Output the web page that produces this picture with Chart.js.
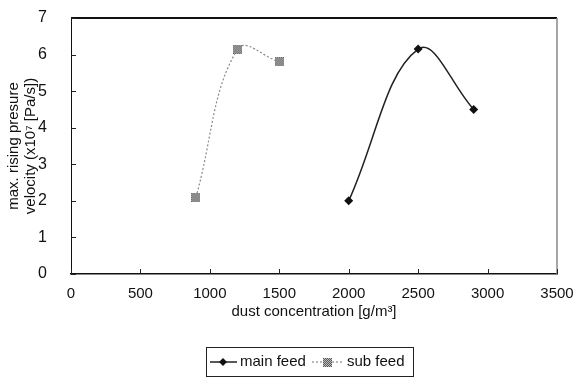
<!DOCTYPE html>
<html>
<head>
<meta charset="utf-8">
<script src="https://cdn.jsdelivr.net/npm/chart.js@4/dist/chart.umd.min.js"></script>
<style>
  html, body { margin: 0; padding: 0; background: #fff; }
  #wrap { width: 574px; height: 378px; }
</style>
</head>
<body>
<div id="wrap"><canvas id="myChart" width="574" height="378"></canvas></div>
<script>
// values
const mainX = [2000, 2500, 2900];
const mainY = [2.0, 6.15, 4.5];
const subX = [900, 1200, 1500];
const subY = [2.1, 6.15, 5.8];
const xTicks = [0, 500, 1000, 1500, 2000, 2500, 3000, 3500];
const yTicks = [0, 1, 2, 3, 4, 5, 6, 7];
const seriesNames = ['main feed', 'sub feed'];

const FONT = "'Liberation Sans', Arial, sans-serif";

// checkered grey square used as the sub feed marker
function checker() {
  const c = document.createElement('canvas');
  c.width = 9; c.height = 9;
  const g = c.getContext('2d');
  for (let i = 0; i < 9; i++) {
    for (let j = 0; j < 9; j++) {
      g.fillStyle = (i + j) % 2 ? '#bdbdbd' : '#5a5a5a';
      g.fillRect(i, j, 1, 1);
    }
  }
  return c;
}
const subMarker = checker();

const toPts = (xs, ys) => xs.map((x, i) => ({x: x, y: ys[i]}));

// plot frame, inside tick marks and boxed legend
const framePlugin = {
  id: 'frame',
  afterDatasetsDraw(chart) {
    const {ctx, chartArea: a, scales} = chart;
    ctx.save();
    ctx.strokeStyle = '#111';
    ctx.lineWidth = 2;
    ctx.beginPath(); ctx.moveTo(a.left, a.top); ctx.lineTo(a.right, a.top); ctx.stroke();
    ctx.strokeStyle = '#888';
    ctx.lineWidth = 1.5;
    ctx.beginPath(); ctx.moveTo(a.right, a.top); ctx.lineTo(a.right, a.bottom); ctx.stroke();
    ctx.strokeStyle = '#222';
    ctx.lineWidth = 1;
    xTicks.forEach(v => {
      const px = Math.round(scales.x.getPixelForValue(v)) + 0.5;
      ctx.beginPath(); ctx.moveTo(px, a.bottom); ctx.lineTo(px, a.bottom - 5); ctx.stroke();
    });
    yTicks.forEach(v => {
      const py = Math.round(scales.y.getPixelForValue(v)) + 0.5;
      ctx.beginPath(); ctx.moveTo(a.left, py); ctx.lineTo(a.left + 5, py); ctx.stroke();
    });
    ctx.restore();
  },
  afterDraw(chart) {
    const ctx = chart.ctx;
    const ds = chart.data.datasets;
    ctx.save();
    ctx.strokeStyle = '#222';
    ctx.lineWidth = 1;
    ctx.strokeRect(206.5, 347.5, 207, 29);
    ctx.font = '15px ' + FONT;
    ctx.fillStyle = '#111';
    ctx.textBaseline = 'middle';
    const cy = 362;
    // main feed
    ctx.strokeStyle = ds[0].borderColor;
    ctx.lineWidth = 1.5;
    ctx.beginPath(); ctx.moveTo(210, cy); ctx.lineTo(237, cy); ctx.stroke();
    ctx.fillStyle = '#111';
    ctx.beginPath();
    ctx.moveTo(223, cy - 4); ctx.lineTo(227, cy); ctx.lineTo(223, cy + 4); ctx.lineTo(219, cy);
    ctx.closePath(); ctx.fill();
    ctx.fillText(seriesNames[0], 240, cy);
    // sub feed
    ctx.strokeStyle = ds[1].borderColor;
    ctx.setLineDash([2, 2]);
    ctx.lineWidth = 1.2;
    ctx.beginPath(); ctx.moveTo(312, cy); ctx.lineTo(343, cy); ctx.stroke();
    ctx.setLineDash([]);
    ctx.drawImage(subMarker, 323, cy - 4);
    ctx.fillStyle = '#111';
    ctx.fillText(seriesNames[1], 347, cy);
    ctx.restore();
  }
};

const ctx = document.getElementById('myChart').getContext('2d');
new Chart(ctx, {
  type: 'line',
  data: {
    datasets: [
      {
        label: seriesNames[0],
        data: toPts(mainX, mainY),
        borderColor: '#222',
        backgroundColor: '#111',
        borderWidth: 1.5,
        pointStyle: 'rectRot',
        pointRadius: 4.5,
        pointBorderWidth: 0,
        tension: 0.4,
        fill: false
      },
      {
        label: seriesNames[1],
        data: toPts(subX, subY),
        borderColor: '#8a8a8a',
        backgroundColor: '#8a8a8a',
        borderWidth: 1.2,
        borderDash: [2, 2],
        pointStyle: subMarker,
        tension: 0.4,
        fill: false
      }
    ]
  },
  options: {
    responsive: false,
    animation: false,
    layout: { padding: { top: 18, right: 17, left: 0, bottom: 0 } },
    plugins: { legend: { display: false }, tooltip: { enabled: false } },
    scales: {
      x: {
        type: 'linear',
        min: 0, max: 3500,
        afterBuildTicks(s) { s.ticks = xTicks.map(v => ({value: v})); },
        afterFit(s) { s.height = 104; s.paddingLeft = 0; s.paddingRight = 0; },
        grid: { display: false, drawTicks: false },
        border: { display: true, color: '#111', width: 1.5 },
        ticks: { padding: 11, color: '#111', font: { family: FONT, size: 15 }, maxRotation: 0,
                 callback: v => String(v) },
        title: {
          display: true,
          text: 'dust concentration [g/m³]',
          color: '#111',
          font: { family: FONT, size: 15 },
          padding: { top: 0, bottom: 57 }
        }
      },
      y: {
        min: 0, max: 7,
        afterBuildTicks(s) { s.ticks = yTicks.map(v => ({value: v})); },
        afterFit(s) { s.width = 71; s.paddingTop = 0; s.paddingBottom = 0; },
        grid: { display: false, drawTicks: false },
        border: { display: true, color: '#111', width: 1 },
        ticks: { padding: 24, color: '#111', font: { family: FONT, size: 16 },
                 callback: v => String(v) },
        title: {
          display: true,
          text: ['max. rising presure', 'velocity (x10⁷ [Pa/s])'],
          color: '#111',
          font: { family: FONT, size: 15, lineHeight: 1.1 },
          padding: { top: 6, bottom: 0 }
        }
      }
    }
  },
  plugins: [framePlugin]
});
</script>
</body>
</html>
